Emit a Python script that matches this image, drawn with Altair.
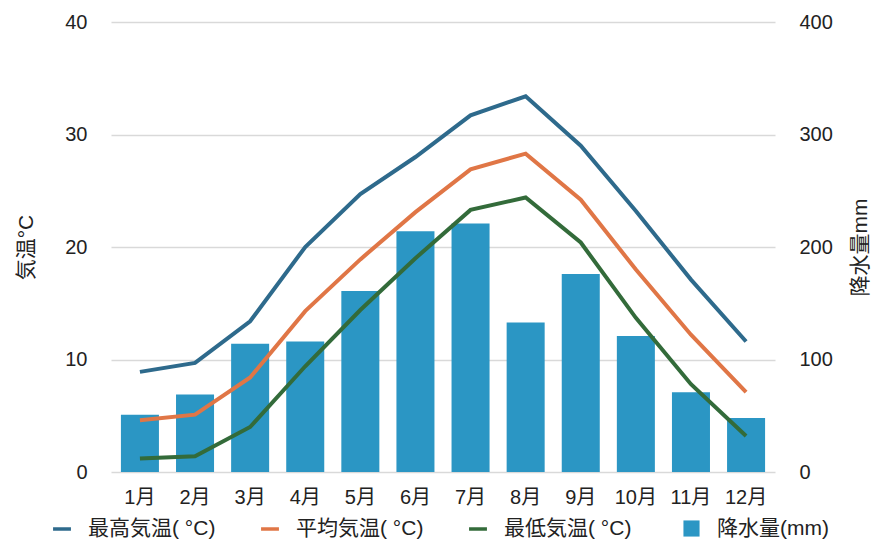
import altair as alt
import pandas as pd

months = ["1月", "2月", "3月", "4月", "5月", "6月", "7月", "8月", "9月", "10月", "11月", "12月"]
max_temp = [8.9, 9.7, 13.4, 20.0, 24.7, 28.0, 31.7, 33.4, 29.0, 23.2, 17.1, 11.6]
avg_temp = [4.6, 5.1, 8.4, 14.3, 18.9, 23.1, 26.9, 28.3, 24.2, 18.0, 12.2, 7.1]
min_temp = [1.2, 1.4, 4.0, 9.4, 14.4, 19.0, 23.3, 24.4, 20.4, 13.7, 7.8, 3.2]
rain = [51, 69, 114, 116, 161, 214, 221, 133, 176, 121, 71, 48]

line_names = ["最高気温( °C)", "平均気温( °C)", "最低気温( °C)"]
line_colors = ["#2E6A8C", "#E07646", "#336B3A"]
bar_name = "降水量(mm)"
bar_color = "#2B96C4"

temp_rows = []
for name, vals in zip(line_names, [max_temp, avg_temp, min_temp]):
    for m, v in zip(months, vals):
        temp_rows.append({"month": m, "series": name, "value": v})
temp_df = pd.DataFrame(temp_rows)
rain_df = pd.DataFrame({"month": months, "series": bar_name, "rain": rain})

FONT = "Liberation Sans, Arial, Noto Sans CJK JP"
TXT = "#222222"

x_enc = alt.X(
    "month:N", sort=months, title=None,
    scale=alt.Scale(paddingInner=0.31, paddingOuter=0.18),
    axis=alt.Axis(labelAngle=0, labelFontSize=20, labelColor=TXT, labelPadding=15,
                  domain=False, ticks=False, grid=False),
)

bars = alt.Chart(rain_df).mark_bar().encode(
    x=x_enc,
    y=alt.Y("rain:Q", title="降水量mm",
            scale=alt.Scale(domain=[0, 400]),
            axis=alt.Axis(orient="right", values=[0, 100, 200, 300, 400], grid=False,
                          domain=False, ticks=False, labelFontSize=20, labelColor=TXT,
                          labelPadding=24, titleFontSize=21, titleFontWeight="normal",
                          titleColor=TXT, titleAngle=270, titlePadding=38)),
    fill=alt.Fill("series:N", scale=alt.Scale(domain=[bar_name], range=[bar_color]),
                  legend=alt.Legend(orient="none", legendX=570, legendY=496, title=None,
                                    symbolType="square", symbolSize=260,
                                    labelFontSize=21, labelColor=TXT, labelOffset=15)),
)

lines = alt.Chart(temp_df).mark_line(strokeWidth=4).encode(
    x=x_enc,
    y=alt.Y("value:Q", title="気温°C",
            scale=alt.Scale(domain=[0, 40]),
            axis=alt.Axis(orient="left", values=[0, 10, 20, 30, 40], grid=True,
                          gridColor="#D9D9D9", gridWidth=1.5,
                          domain=False, ticks=False, labelFontSize=20, labelColor=TXT,
                          labelPadding=24, titleFontSize=21, titleFontWeight="normal",
                          titleColor=TXT, titlePadding=28)),
    stroke=alt.Stroke("series:N", sort=line_names,
                      scale=alt.Scale(domain=line_names, range=line_colors),
                      legend=alt.Legend(orient="none", legendX=-60, legendY=496, title=None,
                                        direction="horizontal", symbolType="stroke",
                                        symbolStrokeWidth=3.5, symbolSize=320,
                                        labelFontSize=21, labelColor=TXT,
                                        labelOffset=15, columnPadding=38)),
)

chart = alt.layer(bars, lines).resolve_scale(y="independent").properties(
    width=664, height=450,
    autosize=alt.AutoSizeParams(type="none"),
    padding={"left": 103, "top": 14, "right": 96, "bottom": 68},
).configure(font=FONT).configure_view(stroke=None)

chart.save("out.html", embed_options={"renderer": "svg", "actions": False})
